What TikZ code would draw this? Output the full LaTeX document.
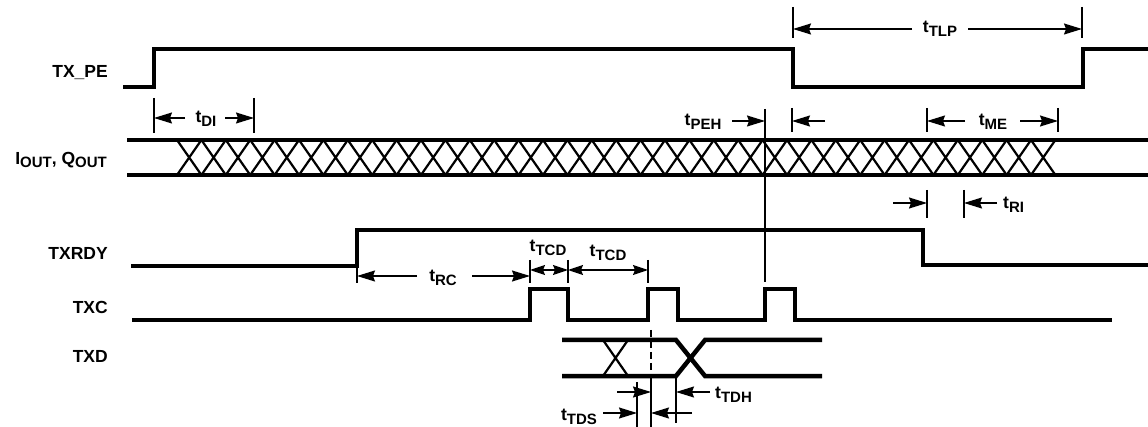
\documentclass[tikz,border=0pt]{standalone}
\usepackage{fontspec}
\setmainfont{Liberation Sans}
\usetikzlibrary{arrows.meta}

\newcommand{\lowsub}[1]{\raisebox{-3.5pt}{\fontsize{15}{15}\selectfont #1}}
\newcommand{\tsub}[1]{t\lowsub{#1}}

\begin{document}
\begin{tikzpicture}[
  x=1pt, y=-1pt,
  line cap=butt, line join=miter,
  sig/.style={line width=4.5pt},
  hatch/.style={line width=2.2pt},
  guide/.style={line width=1.5pt},
  dimarr/.style={line width=1.3pt, -{Stealth[length=18pt,width=11pt,inset=2pt]}},
  dimboth/.style={line width=1.3pt,
    {Stealth[length=15pt,width=10pt,inset=2pt]}-{Stealth[length=15pt,width=10pt,inset=2pt]}},
  lbl/.style={anchor=east, inner sep=0pt, font=\fontsize{17.5}{20}\selectfont\bfseries},
  tlbl/.style={inner sep=0pt, font=\fontsize{17.5}{20}\selectfont\bfseries}
]

% Frame
\useasboundingbox (0,0) rectangle (1148,427);

% === Signal names ===
\node[lbl] (nPE)   at (108,73)  {TX\_PE};
\node[lbl] (nIQ)   at (107,160) {I\lowsub{OUT}, Q\lowsub{OUT}};
\node[lbl] (nRDY)  at (108,253) {TXRDY};
\node[lbl] (nTXC)  at (108,307) {TXC};
\node[lbl] (nTXD)  at (108,356) {TXD};

% === Waveforms ===
% TX_PE
\draw[sig] (123,87) -- (154,87) -- (154,49) -- (793,49) -- (793,87)
  -- (1083,87) -- (1083,49) -- (1148,49);

% I/Q output bus with hatching
\draw[sig] (127,140) -- (1148,140);
\draw[sig] (127,175) -- (1148,175);
\foreach \k in {0,...,35} {
  \pgfmathsetmacro\xa{177+24.4*\k}
  \pgfmathsetmacro\xb{\xa+24.4}
  \draw[hatch] (\xa,140) -- (\xb,175) (\xa,175) -- (\xb,140);
}

% TXRDY
\draw[sig] (131,266) -- (357,266) -- (357,230) -- (923,230) -- (923,265) -- (1148,265);

% TXC
\draw[sig] (132,320) -- (530,320) -- (530,289) -- (568,289) -- (568,320)
  -- (648,320) -- (648,289) -- (678,289) -- (678,320)
  -- (765,320) -- (765,289) -- (795,289) -- (795,320) -- (1112,320);

% TXD
\draw[sig] (562,340) -- (676,340) -- (705,376) -- (822,376);
\draw[sig] (562,376) -- (676,376) -- (705,340) -- (822,340);
\draw[hatch] (603,340) -- (628,376) (603,376) -- (628,340);

% === Reference lines ===
\foreach \x in {793,1082} \draw[guide] (\x,7) -- (\x,38);
\foreach \x in {154,254} \draw[guide] (\x,98) -- (\x,133);
\foreach \x in {792,927,1058} \draw[guide] (\x,108) -- (\x,132);
\draw[guide] (765,109) -- (765,282);
\foreach \x in {927,964} \draw[guide] (\x,190) -- (\x,218);
\draw[guide] (357,268) -- (357,283);
\foreach \x in {530,568,648} \draw[guide] (\x,260) -- (\x,283);
\draw[guide, dash pattern=on 7pt off 4pt] (651,330) -- (651,378);
\draw[guide] (651,378) -- (651,427);
\draw[guide] (637,382) -- (637,427);
\draw[guide] (676,378) -- (676,423);

% === Timing arrows ===
% tTLP
\node[tlbl] (tTLP) at (940,29) {\tsub{TLP}};
\draw[dimarr] (912,29) -- (793,29);
\draw[dimarr] (968,29) -- (1082,29);

% tDI
\node[tlbl] (tDI) at (206,119) {\tsub{DI}};
\draw[dimarr] (185,118) -- (154,118);
\draw[dimarr] (225,118) -- (254,118);

% tPEH
\node[tlbl] (tPEH) at (703,122) {\tsub{PEH}};
\draw[dimarr] (732,121) -- (765,121);
\draw[dimarr] (825,121) -- (792,121);

% tME
\node[tlbl] (tME) at (993,122) {\tsub{ME}};
\draw[dimarr] (965,121) -- (927,121);
\draw[dimarr] (1020,121) -- (1058,121);

% tRI
\node[tlbl, anchor=west] (tRI) at (1003,205) {\tsub{RI}};
\draw[dimarr] (893,203) -- (927,203);
\draw[dimarr] (997,203) -- (964,203);

% tRC
\node[tlbl] (tRC) at (443,278) {\tsub{RC}};
\draw[dimarr] (417,276) -- (357,276);
\draw[dimarr] (472,276) -- (530,276);

% tTCD
\node[tlbl] (tTCDa) at (548,248) {\tsub{TCD}};
\node[tlbl] (tTCDb) at (608,253) {\tsub{TCD}};
\draw[dimboth] (530,270) -- (568,270);
\draw[dimboth] (568,270) -- (648,270);

% tTDH
\node[tlbl, anchor=west] (tTDH) at (715,395) {\tsub{TDH}};
\draw[dimarr] (617,392) -- (651,392);
\draw[dimarr] (710,392) -- (676,392);

% tTDS
\node[tlbl] (tTDS) at (579,417) {\tsub{TDS}};
\draw[dimarr] (603,413) -- (637,413);
\draw[dimarr] (692,413) -- (651,413);

\end{tikzpicture}
\end{document}
